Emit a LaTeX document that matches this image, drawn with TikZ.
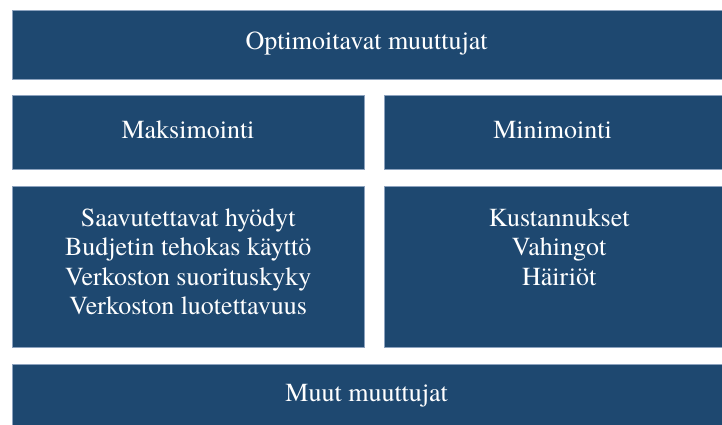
\documentclass[tikz,border=0pt]{standalone}
\usepackage{fontspec}
\newfontfamily\boxfont{texgyretermes-regular.otf}
\usetikzlibrary{positioning}
\definecolor{boxblue}{RGB}{30,72,112}
\definecolor{boxedge}{RGB}{140,162,190}

\begin{document}
\begin{tikzpicture}[x=1pt,y=1pt,
        box/.style={rectangle, fill=boxblue, draw=boxedge, line width=0.6pt, inner sep=0},
        label/.style={text=white, align=center, inner sep=0, font=\boxfont\fontsize{26}{29.5}\selectfont}]
        \useasboundingbox (0,0) rectangle (722,-425);
        % boxes %
        \node[box, anchor=north west, minimum width=720, minimum height=68.7] (opt) at (11.5,-10.3) {};
        \node[box, below right=15.3 and 0 of opt.south west, minimum width=352.8, minimum height=74] (maks) {};
        \node[box, right=19 of maks.north east, anchor=north west, minimum width=350, minimum height=74] (mini) {};
        \node[box, below right=16 and 0 of maks.south west, minimum width=352.8, minimum height=161.7] (hyoty) {};
        \node[box, right=19 of hyoty.north east, anchor=north west, minimum width=350, minimum height=161.7] (kust) {};
        \node[box, below right=16.3 and 0 of hyoty.south west, minimum width=720, minimum height=70] (muut) {};
        % texts %
        \node[label, anchor=base] (optt) at (366.7,-50) {Optimoitavat muuttujat};
        \node[label, anchor=base] (makst) at (188,-138) {Maksimointi};
        \node[label, anchor=base] (minit) at (552.6,-138) {Minimointi};
        \node[label, below=23 of hyoty.north, anchor=north] (hyotyt) {Saavutettavat hyödyt\\Budjetin tehokas käyttö\\Verkoston suorituskyky\\Verkoston luotettavuus};
        \node[label, below=23 of kust.north, anchor=north] (kustt) {Kustannukset\\Vahingot\\Häiriöt};
        \node[label, anchor=base] (muutt) at (366.7,-401.5) {Muut muuttujat};
\end{tikzpicture}
\end{document}
